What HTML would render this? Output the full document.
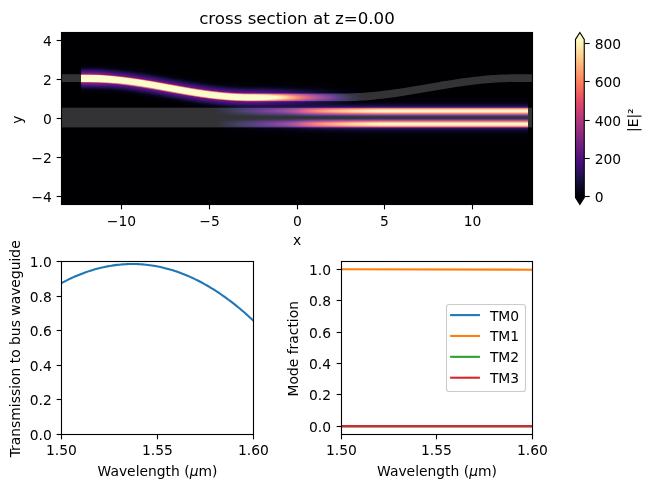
<!DOCTYPE html>
<html><head><meta charset="utf-8"><title>cross section</title>
<style>html,body{margin:0;padding:0;background:#fff}svg{display:block}</style></head>
<body>
<svg width="650" height="491" viewBox="0 0 650 491" font-family="'DejaVu Sans','Liberation Sans',sans-serif" font-size="13.89" fill="#000">
<defs>
<filter id="cmap" color-interpolation-filters="sRGB" x="0" y="0" width="1" height="1" filterUnits="objectBoundingBox">
<feComponentTransfer>
<feFuncR type="table" tableValues="0.001 0.006 0.014 0.025 0.040 0.057 0.074 0.093 0.113 0.135 0.159 0.185 0.212 0.239 0.265 0.291 0.323 0.348 0.372 0.396 0.421 0.445 0.470 0.494 0.519 0.544 0.569 0.595 0.620 0.646 0.671 0.697 0.729 0.755 0.780 0.805 0.829 0.852 0.874 0.895 0.913 0.930 0.944 0.956 0.966 0.973 0.980 0.985 0.989 0.992 0.994 0.996 0.997 0.997 0.997 0.997 0.996 0.995 0.994 0.993 0.991 0.990 0.988 0.987 0.987 0.987 0.987 0.987 0.987 0.987 0.987 0.987 0.987 0.987 0.987 0.987 0.987 0.987 0.987 0.987 0.987 0.987 0.987 0.987 0.987 0.987 0.987 0.987 0.987 0.987 0.987 0.987 0.987 0.987 0.987 0.987 0.987 0.987 0.987 0.987 0.987 0.987 0.987 0.987 0.987 0.987 0.987 0.987 0.987 0.987 0.987 0.987 0.987 0.987 0.987 0.987 0.987 0.987 0.987 0.987 0.987 0.987 0.987 0.987 0.987 0.987 0.987"/>
<feFuncG type="table" tableValues="0.000 0.005 0.012 0.021 0.031 0.042 0.052 0.060 0.065 0.068 0.068 0.066 0.062 0.060 0.060 0.065 0.074 0.083 0.093 0.103 0.113 0.123 0.132 0.141 0.150 0.159 0.167 0.176 0.184 0.192 0.200 0.209 0.219 0.229 0.239 0.250 0.262 0.276 0.292 0.310 0.330 0.353 0.378 0.404 0.433 0.462 0.491 0.521 0.558 0.588 0.617 0.646 0.676 0.705 0.734 0.762 0.791 0.820 0.849 0.877 0.906 0.934 0.963 0.991 0.991 0.991 0.991 0.991 0.991 0.991 0.991 0.991 0.991 0.991 0.991 0.991 0.991 0.991 0.991 0.991 0.991 0.991 0.991 0.991 0.991 0.991 0.991 0.991 0.991 0.991 0.991 0.991 0.991 0.991 0.991 0.991 0.991 0.991 0.991 0.991 0.991 0.991 0.991 0.991 0.991 0.991 0.991 0.991 0.991 0.991 0.991 0.991 0.991 0.991 0.991 0.991 0.991 0.991 0.991 0.991 0.991 0.991 0.991 0.991 0.991 0.991 0.991"/>
<feFuncB type="table" tableValues="0.014 0.037 0.069 0.101 0.134 0.167 0.203 0.239 0.277 0.315 0.353 0.388 0.419 0.443 0.462 0.475 0.487 0.494 0.499 0.503 0.505 0.507 0.508 0.508 0.507 0.506 0.504 0.501 0.498 0.493 0.487 0.481 0.471 0.463 0.453 0.442 0.431 0.419 0.406 0.394 0.383 0.373 0.365 0.361 0.360 0.362 0.368 0.377 0.392 0.406 0.423 0.441 0.461 0.483 0.505 0.529 0.553 0.579 0.606 0.633 0.661 0.690 0.720 0.750 0.750 0.750 0.750 0.750 0.750 0.750 0.750 0.750 0.750 0.750 0.750 0.750 0.750 0.750 0.750 0.750 0.750 0.750 0.750 0.750 0.750 0.750 0.750 0.750 0.750 0.750 0.750 0.750 0.750 0.750 0.750 0.750 0.750 0.750 0.750 0.750 0.750 0.750 0.750 0.750 0.750 0.750 0.750 0.750 0.750 0.750 0.750 0.750 0.750 0.750 0.750 0.750 0.750 0.750 0.750 0.750 0.750 0.750 0.750 0.750 0.750 0.750 0.750"/>
</feComponentTransfer></filter>
<linearGradient id="gA" gradientUnits="userSpaceOnUse" x1="100.0" y1="0" x2="364.0" y2="0"><stop offset="0.0000" stop-color="#fff" stop-opacity="1.0000"/><stop offset="0.0152" stop-color="#fff" stop-opacity="0.9472"/><stop offset="0.0303" stop-color="#fff" stop-opacity="0.9012"/><stop offset="0.0455" stop-color="#fff" stop-opacity="0.8645"/><stop offset="0.0606" stop-color="#fff" stop-opacity="0.8400"/><stop offset="0.0758" stop-color="#fff" stop-opacity="0.8231"/><stop offset="0.0909" stop-color="#fff" stop-opacity="0.8093"/><stop offset="0.1061" stop-color="#fff" stop-opacity="0.8011"/><stop offset="0.1212" stop-color="#fff" stop-opacity="0.8000"/><stop offset="0.1364" stop-color="#fff" stop-opacity="0.8000"/><stop offset="0.1515" stop-color="#fff" stop-opacity="0.8000"/><stop offset="0.1667" stop-color="#fff" stop-opacity="0.8000"/><stop offset="0.1818" stop-color="#fff" stop-opacity="0.8000"/><stop offset="0.1970" stop-color="#fff" stop-opacity="0.8000"/><stop offset="0.2121" stop-color="#fff" stop-opacity="0.8000"/><stop offset="0.2273" stop-color="#fff" stop-opacity="0.8000"/><stop offset="0.2424" stop-color="#fff" stop-opacity="0.8000"/><stop offset="0.2576" stop-color="#fff" stop-opacity="0.8000"/><stop offset="0.2727" stop-color="#fff" stop-opacity="0.8000"/><stop offset="0.2879" stop-color="#fff" stop-opacity="0.8000"/><stop offset="0.3030" stop-color="#fff" stop-opacity="0.8000"/><stop offset="0.3182" stop-color="#fff" stop-opacity="0.8000"/><stop offset="0.3333" stop-color="#fff" stop-opacity="0.8000"/><stop offset="0.3485" stop-color="#fff" stop-opacity="0.8000"/><stop offset="0.3636" stop-color="#fff" stop-opacity="0.8000"/><stop offset="0.3788" stop-color="#fff" stop-opacity="0.8000"/><stop offset="0.3939" stop-color="#fff" stop-opacity="0.7999"/><stop offset="0.4091" stop-color="#fff" stop-opacity="0.7995"/><stop offset="0.4242" stop-color="#fff" stop-opacity="0.7989"/><stop offset="0.4394" stop-color="#fff" stop-opacity="0.7980"/><stop offset="0.4545" stop-color="#fff" stop-opacity="0.7968"/><stop offset="0.4697" stop-color="#fff" stop-opacity="0.7954"/><stop offset="0.4848" stop-color="#fff" stop-opacity="0.7938"/><stop offset="0.5000" stop-color="#fff" stop-opacity="0.7919"/><stop offset="0.5152" stop-color="#fff" stop-opacity="0.7897"/><stop offset="0.5303" stop-color="#fff" stop-opacity="0.7873"/><stop offset="0.5455" stop-color="#fff" stop-opacity="0.7846"/><stop offset="0.5606" stop-color="#fff" stop-opacity="0.7816"/><stop offset="0.5758" stop-color="#fff" stop-opacity="0.7772"/><stop offset="0.5909" stop-color="#fff" stop-opacity="0.7652"/><stop offset="0.6061" stop-color="#fff" stop-opacity="0.7460"/><stop offset="0.6212" stop-color="#fff" stop-opacity="0.7212"/><stop offset="0.6364" stop-color="#fff" stop-opacity="0.6926"/><stop offset="0.6515" stop-color="#fff" stop-opacity="0.6617"/><stop offset="0.6667" stop-color="#fff" stop-opacity="0.6303"/><stop offset="0.6818" stop-color="#fff" stop-opacity="0.6000"/><stop offset="0.6970" stop-color="#fff" stop-opacity="0.5683"/><stop offset="0.7121" stop-color="#fff" stop-opacity="0.5328"/><stop offset="0.7273" stop-color="#fff" stop-opacity="0.4951"/><stop offset="0.7424" stop-color="#fff" stop-opacity="0.4566"/><stop offset="0.7576" stop-color="#fff" stop-opacity="0.4191"/><stop offset="0.7727" stop-color="#fff" stop-opacity="0.3826"/><stop offset="0.7879" stop-color="#fff" stop-opacity="0.3455"/><stop offset="0.8030" stop-color="#fff" stop-opacity="0.3098"/><stop offset="0.8182" stop-color="#fff" stop-opacity="0.2773"/><stop offset="0.8333" stop-color="#fff" stop-opacity="0.2481"/><stop offset="0.8485" stop-color="#fff" stop-opacity="0.2207"/><stop offset="0.8636" stop-color="#fff" stop-opacity="0.1938"/><stop offset="0.8788" stop-color="#fff" stop-opacity="0.1658"/><stop offset="0.8939" stop-color="#fff" stop-opacity="0.1366"/><stop offset="0.9091" stop-color="#fff" stop-opacity="0.1080"/><stop offset="0.9242" stop-color="#fff" stop-opacity="0.0818"/><stop offset="0.9394" stop-color="#fff" stop-opacity="0.0600"/><stop offset="0.9545" stop-color="#fff" stop-opacity="0.0417"/><stop offset="0.9697" stop-color="#fff" stop-opacity="0.0253"/><stop offset="0.9848" stop-color="#fff" stop-opacity="0.0112"/><stop offset="1.0000" stop-color="#fff" stop-opacity="0.0000"/></linearGradient>
<linearGradient id="gB" gradientUnits="userSpaceOnUse" x1="212.0" y1="0" x2="382.0" y2="0"><stop offset="0.0000" stop-color="#fff" stop-opacity="0.0000"/><stop offset="0.0152" stop-color="#fff" stop-opacity="0.0110"/><stop offset="0.0303" stop-color="#fff" stop-opacity="0.0221"/><stop offset="0.0455" stop-color="#fff" stop-opacity="0.0334"/><stop offset="0.0606" stop-color="#fff" stop-opacity="0.0448"/><stop offset="0.0758" stop-color="#fff" stop-opacity="0.0564"/><stop offset="0.0909" stop-color="#fff" stop-opacity="0.0682"/><stop offset="0.1061" stop-color="#fff" stop-opacity="0.0801"/><stop offset="0.1212" stop-color="#fff" stop-opacity="0.0922"/><stop offset="0.1364" stop-color="#fff" stop-opacity="0.1044"/><stop offset="0.1515" stop-color="#fff" stop-opacity="0.1168"/><stop offset="0.1667" stop-color="#fff" stop-opacity="0.1292"/><stop offset="0.1818" stop-color="#fff" stop-opacity="0.1418"/><stop offset="0.1970" stop-color="#fff" stop-opacity="0.1545"/><stop offset="0.2121" stop-color="#fff" stop-opacity="0.1674"/><stop offset="0.2273" stop-color="#fff" stop-opacity="0.1805"/><stop offset="0.2424" stop-color="#fff" stop-opacity="0.1938"/><stop offset="0.2576" stop-color="#fff" stop-opacity="0.2074"/><stop offset="0.2727" stop-color="#fff" stop-opacity="0.2211"/><stop offset="0.2879" stop-color="#fff" stop-opacity="0.2351"/><stop offset="0.3030" stop-color="#fff" stop-opacity="0.2488"/><stop offset="0.3182" stop-color="#fff" stop-opacity="0.2623"/><stop offset="0.3333" stop-color="#fff" stop-opacity="0.2757"/><stop offset="0.3485" stop-color="#fff" stop-opacity="0.2893"/><stop offset="0.3636" stop-color="#fff" stop-opacity="0.3032"/><stop offset="0.3788" stop-color="#fff" stop-opacity="0.3177"/><stop offset="0.3939" stop-color="#fff" stop-opacity="0.3328"/><stop offset="0.4091" stop-color="#fff" stop-opacity="0.3488"/><stop offset="0.4242" stop-color="#fff" stop-opacity="0.3659"/><stop offset="0.4394" stop-color="#fff" stop-opacity="0.3843"/><stop offset="0.4545" stop-color="#fff" stop-opacity="0.4041"/><stop offset="0.4697" stop-color="#fff" stop-opacity="0.4268"/><stop offset="0.4848" stop-color="#fff" stop-opacity="0.4550"/><stop offset="0.5000" stop-color="#fff" stop-opacity="0.4871"/><stop offset="0.5152" stop-color="#fff" stop-opacity="0.5216"/><stop offset="0.5303" stop-color="#fff" stop-opacity="0.5567"/><stop offset="0.5455" stop-color="#fff" stop-opacity="0.5907"/><stop offset="0.5606" stop-color="#fff" stop-opacity="0.6220"/><stop offset="0.5758" stop-color="#fff" stop-opacity="0.6489"/><stop offset="0.5909" stop-color="#fff" stop-opacity="0.6721"/><stop offset="0.6061" stop-color="#fff" stop-opacity="0.6941"/><stop offset="0.6212" stop-color="#fff" stop-opacity="0.7150"/><stop offset="0.6364" stop-color="#fff" stop-opacity="0.7347"/><stop offset="0.6515" stop-color="#fff" stop-opacity="0.7533"/><stop offset="0.6667" stop-color="#fff" stop-opacity="0.7708"/><stop offset="0.6818" stop-color="#fff" stop-opacity="0.7873"/><stop offset="0.6970" stop-color="#fff" stop-opacity="0.8029"/><stop offset="0.7121" stop-color="#fff" stop-opacity="0.8177"/><stop offset="0.7273" stop-color="#fff" stop-opacity="0.8319"/><stop offset="0.7424" stop-color="#fff" stop-opacity="0.8455"/><stop offset="0.7576" stop-color="#fff" stop-opacity="0.8586"/><stop offset="0.7727" stop-color="#fff" stop-opacity="0.8711"/><stop offset="0.7879" stop-color="#fff" stop-opacity="0.8830"/><stop offset="0.8030" stop-color="#fff" stop-opacity="0.8942"/><stop offset="0.8182" stop-color="#fff" stop-opacity="0.9049"/><stop offset="0.8333" stop-color="#fff" stop-opacity="0.9150"/><stop offset="0.8485" stop-color="#fff" stop-opacity="0.9245"/><stop offset="0.8636" stop-color="#fff" stop-opacity="0.9338"/><stop offset="0.8788" stop-color="#fff" stop-opacity="0.9427"/><stop offset="0.8939" stop-color="#fff" stop-opacity="0.9513"/><stop offset="0.9091" stop-color="#fff" stop-opacity="0.9596"/><stop offset="0.9242" stop-color="#fff" stop-opacity="0.9675"/><stop offset="0.9394" stop-color="#fff" stop-opacity="0.9750"/><stop offset="0.9545" stop-color="#fff" stop-opacity="0.9820"/><stop offset="0.9697" stop-color="#fff" stop-opacity="0.9885"/><stop offset="0.9848" stop-color="#fff" stop-opacity="0.9945"/><stop offset="1.0000" stop-color="#fff" stop-opacity="1.0000"/></linearGradient>
<mask id="mA" maskUnits="userSpaceOnUse" x="0" y="0" width="650" height="491"><rect x="81.1" y="0" width="446.9" height="491" fill="url(#gA)"/></mask>
<mask id="mB" maskUnits="userSpaceOnUse" x="0" y="0" width="650" height="491"><rect x="81.1" y="0" width="446.9" height="491" fill="url(#gB)"/></mask>
<linearGradient id="gP" gradientUnits="userSpaceOnUse" x1="0" y1="93.55" x2="0" y2="141.55"><stop offset="0.0000" stop-color="#000000"/><stop offset="0.0052" stop-color="#000000"/><stop offset="0.0104" stop-color="#000000"/><stop offset="0.0156" stop-color="#000000"/><stop offset="0.0208" stop-color="#000000"/><stop offset="0.0260" stop-color="#000000"/><stop offset="0.0312" stop-color="#000000"/><stop offset="0.0365" stop-color="#000000"/><stop offset="0.0417" stop-color="#000000"/><stop offset="0.0469" stop-color="#000000"/><stop offset="0.0521" stop-color="#000000"/><stop offset="0.0573" stop-color="#000000"/><stop offset="0.0625" stop-color="#010101"/><stop offset="0.0677" stop-color="#010101"/><stop offset="0.0729" stop-color="#010101"/><stop offset="0.0781" stop-color="#010101"/><stop offset="0.0833" stop-color="#010101"/><stop offset="0.0885" stop-color="#010101"/><stop offset="0.0938" stop-color="#010101"/><stop offset="0.0990" stop-color="#010101"/><stop offset="0.1042" stop-color="#010101"/><stop offset="0.1094" stop-color="#010101"/><stop offset="0.1146" stop-color="#010101"/><stop offset="0.1198" stop-color="#010101"/><stop offset="0.1250" stop-color="#020202"/><stop offset="0.1302" stop-color="#020202"/><stop offset="0.1354" stop-color="#020202"/><stop offset="0.1406" stop-color="#020202"/><stop offset="0.1458" stop-color="#020202"/><stop offset="0.1510" stop-color="#030303"/><stop offset="0.1562" stop-color="#030303"/><stop offset="0.1615" stop-color="#030303"/><stop offset="0.1667" stop-color="#030303"/><stop offset="0.1719" stop-color="#040404"/><stop offset="0.1771" stop-color="#040404"/><stop offset="0.1823" stop-color="#040404"/><stop offset="0.1875" stop-color="#050505"/><stop offset="0.1927" stop-color="#050505"/><stop offset="0.1979" stop-color="#060606"/><stop offset="0.2031" stop-color="#060606"/><stop offset="0.2083" stop-color="#070707"/><stop offset="0.2135" stop-color="#080808"/><stop offset="0.2188" stop-color="#080808"/><stop offset="0.2240" stop-color="#090909"/><stop offset="0.2292" stop-color="#0a0a0a"/><stop offset="0.2344" stop-color="#0b0b0b"/><stop offset="0.2396" stop-color="#0c0c0c"/><stop offset="0.2448" stop-color="#0d0d0d"/><stop offset="0.2500" stop-color="#0f0f0f"/><stop offset="0.2552" stop-color="#101010"/><stop offset="0.2604" stop-color="#121212"/><stop offset="0.2656" stop-color="#131313"/><stop offset="0.2708" stop-color="#151515"/><stop offset="0.2760" stop-color="#171717"/><stop offset="0.2812" stop-color="#1a1a1a"/><stop offset="0.2865" stop-color="#1c1c1c"/><stop offset="0.2917" stop-color="#292929"/><stop offset="0.2969" stop-color="#393939"/><stop offset="0.3021" stop-color="#494949"/><stop offset="0.3073" stop-color="#515151"/><stop offset="0.3125" stop-color="#585858"/><stop offset="0.3177" stop-color="#5f5f5f"/><stop offset="0.3229" stop-color="#656565"/><stop offset="0.3281" stop-color="#6b6b6b"/><stop offset="0.3333" stop-color="#707070"/><stop offset="0.3385" stop-color="#757575"/><stop offset="0.3438" stop-color="#787878"/><stop offset="0.3490" stop-color="#7b7b7b"/><stop offset="0.3542" stop-color="#7d7d7d"/><stop offset="0.3594" stop-color="#7e7e7e"/><stop offset="0.3646" stop-color="#7f7f7f"/><stop offset="0.3698" stop-color="#7e7e7e"/><stop offset="0.3750" stop-color="#7d7d7d"/><stop offset="0.3802" stop-color="#7a7a7a"/><stop offset="0.3854" stop-color="#777777"/><stop offset="0.3906" stop-color="#737373"/><stop offset="0.3958" stop-color="#6e6e6e"/><stop offset="0.4010" stop-color="#696969"/><stop offset="0.4062" stop-color="#626262"/><stop offset="0.4115" stop-color="#5c5c5c"/><stop offset="0.4167" stop-color="#555555"/><stop offset="0.4219" stop-color="#4e4e4e"/><stop offset="0.4271" stop-color="#464646"/><stop offset="0.4323" stop-color="#3f3f3f"/><stop offset="0.4375" stop-color="#373737"/><stop offset="0.4427" stop-color="#303030"/><stop offset="0.4479" stop-color="#282828"/><stop offset="0.4531" stop-color="#212121"/><stop offset="0.4583" stop-color="#1b1b1b"/><stop offset="0.4635" stop-color="#151515"/><stop offset="0.4688" stop-color="#101010"/><stop offset="0.4740" stop-color="#0b0b0b"/><stop offset="0.4792" stop-color="#070707"/><stop offset="0.4844" stop-color="#040404"/><stop offset="0.4896" stop-color="#020202"/><stop offset="0.4948" stop-color="#000000"/><stop offset="0.5000" stop-color="#000000"/><stop offset="0.5052" stop-color="#000000"/><stop offset="0.5104" stop-color="#020202"/><stop offset="0.5156" stop-color="#040404"/><stop offset="0.5208" stop-color="#070707"/><stop offset="0.5260" stop-color="#0b0b0b"/><stop offset="0.5312" stop-color="#101010"/><stop offset="0.5365" stop-color="#151515"/><stop offset="0.5417" stop-color="#1b1b1b"/><stop offset="0.5469" stop-color="#212121"/><stop offset="0.5521" stop-color="#282828"/><stop offset="0.5573" stop-color="#303030"/><stop offset="0.5625" stop-color="#373737"/><stop offset="0.5677" stop-color="#3f3f3f"/><stop offset="0.5729" stop-color="#464646"/><stop offset="0.5781" stop-color="#4e4e4e"/><stop offset="0.5833" stop-color="#555555"/><stop offset="0.5885" stop-color="#5c5c5c"/><stop offset="0.5938" stop-color="#626262"/><stop offset="0.5990" stop-color="#696969"/><stop offset="0.6042" stop-color="#6e6e6e"/><stop offset="0.6094" stop-color="#737373"/><stop offset="0.6146" stop-color="#777777"/><stop offset="0.6198" stop-color="#7a7a7a"/><stop offset="0.6250" stop-color="#7d7d7d"/><stop offset="0.6302" stop-color="#7e7e7e"/><stop offset="0.6354" stop-color="#7f7f7f"/><stop offset="0.6406" stop-color="#7e7e7e"/><stop offset="0.6458" stop-color="#7d7d7d"/><stop offset="0.6510" stop-color="#7b7b7b"/><stop offset="0.6562" stop-color="#787878"/><stop offset="0.6615" stop-color="#757575"/><stop offset="0.6667" stop-color="#707070"/><stop offset="0.6719" stop-color="#6b6b6b"/><stop offset="0.6771" stop-color="#656565"/><stop offset="0.6823" stop-color="#5f5f5f"/><stop offset="0.6875" stop-color="#585858"/><stop offset="0.6927" stop-color="#515151"/><stop offset="0.6979" stop-color="#494949"/><stop offset="0.7031" stop-color="#393939"/><stop offset="0.7083" stop-color="#292929"/><stop offset="0.7135" stop-color="#1c1c1c"/><stop offset="0.7188" stop-color="#1a1a1a"/><stop offset="0.7240" stop-color="#171717"/><stop offset="0.7292" stop-color="#151515"/><stop offset="0.7344" stop-color="#131313"/><stop offset="0.7396" stop-color="#121212"/><stop offset="0.7448" stop-color="#101010"/><stop offset="0.7500" stop-color="#0f0f0f"/><stop offset="0.7552" stop-color="#0d0d0d"/><stop offset="0.7604" stop-color="#0c0c0c"/><stop offset="0.7656" stop-color="#0b0b0b"/><stop offset="0.7708" stop-color="#0a0a0a"/><stop offset="0.7760" stop-color="#090909"/><stop offset="0.7812" stop-color="#080808"/><stop offset="0.7865" stop-color="#080808"/><stop offset="0.7917" stop-color="#070707"/><stop offset="0.7969" stop-color="#060606"/><stop offset="0.8021" stop-color="#060606"/><stop offset="0.8073" stop-color="#050505"/><stop offset="0.8125" stop-color="#050505"/><stop offset="0.8177" stop-color="#040404"/><stop offset="0.8229" stop-color="#040404"/><stop offset="0.8281" stop-color="#040404"/><stop offset="0.8333" stop-color="#030303"/><stop offset="0.8385" stop-color="#030303"/><stop offset="0.8438" stop-color="#030303"/><stop offset="0.8490" stop-color="#030303"/><stop offset="0.8542" stop-color="#020202"/><stop offset="0.8594" stop-color="#020202"/><stop offset="0.8646" stop-color="#020202"/><stop offset="0.8698" stop-color="#020202"/><stop offset="0.8750" stop-color="#020202"/><stop offset="0.8802" stop-color="#010101"/><stop offset="0.8854" stop-color="#010101"/><stop offset="0.8906" stop-color="#010101"/><stop offset="0.8958" stop-color="#010101"/><stop offset="0.9010" stop-color="#010101"/><stop offset="0.9062" stop-color="#010101"/><stop offset="0.9115" stop-color="#010101"/><stop offset="0.9167" stop-color="#010101"/><stop offset="0.9219" stop-color="#010101"/><stop offset="0.9271" stop-color="#010101"/><stop offset="0.9323" stop-color="#010101"/><stop offset="0.9375" stop-color="#010101"/><stop offset="0.9427" stop-color="#000000"/><stop offset="0.9479" stop-color="#000000"/><stop offset="0.9531" stop-color="#000000"/><stop offset="0.9583" stop-color="#000000"/><stop offset="0.9635" stop-color="#000000"/><stop offset="0.9688" stop-color="#000000"/><stop offset="0.9740" stop-color="#000000"/><stop offset="0.9792" stop-color="#000000"/><stop offset="0.9844" stop-color="#000000"/><stop offset="0.9896" stop-color="#000000"/><stop offset="0.9948" stop-color="#000000"/><stop offset="1.0000" stop-color="#000000"/></linearGradient>
<linearGradient id="gU" gradientUnits="userSpaceOnUse" x1="0" y1="-16" x2="0" y2="16"><stop offset="0.0000" stop-color="#000000"/><stop offset="0.0078" stop-color="#000000"/><stop offset="0.0156" stop-color="#000000"/><stop offset="0.0234" stop-color="#000000"/><stop offset="0.0312" stop-color="#000000"/><stop offset="0.0391" stop-color="#000000"/><stop offset="0.0469" stop-color="#010101"/><stop offset="0.0547" stop-color="#010101"/><stop offset="0.0625" stop-color="#010101"/><stop offset="0.0703" stop-color="#010101"/><stop offset="0.0781" stop-color="#010101"/><stop offset="0.0859" stop-color="#020202"/><stop offset="0.0938" stop-color="#020202"/><stop offset="0.1016" stop-color="#020202"/><stop offset="0.1094" stop-color="#030303"/><stop offset="0.1172" stop-color="#030303"/><stop offset="0.1250" stop-color="#030303"/><stop offset="0.1328" stop-color="#040404"/><stop offset="0.1406" stop-color="#050505"/><stop offset="0.1484" stop-color="#050505"/><stop offset="0.1562" stop-color="#060606"/><stop offset="0.1641" stop-color="#070707"/><stop offset="0.1719" stop-color="#080808"/><stop offset="0.1797" stop-color="#090909"/><stop offset="0.1875" stop-color="#0a0a0a"/><stop offset="0.1953" stop-color="#0c0c0c"/><stop offset="0.2031" stop-color="#0d0d0d"/><stop offset="0.2109" stop-color="#0f0f0f"/><stop offset="0.2188" stop-color="#101010"/><stop offset="0.2266" stop-color="#121212"/><stop offset="0.2344" stop-color="#141414"/><stop offset="0.2422" stop-color="#151515"/><stop offset="0.2500" stop-color="#171717"/><stop offset="0.2578" stop-color="#191919"/><stop offset="0.2656" stop-color="#1b1b1b"/><stop offset="0.2734" stop-color="#1d1d1d"/><stop offset="0.2812" stop-color="#1f1f1f"/><stop offset="0.2891" stop-color="#212121"/><stop offset="0.2969" stop-color="#232323"/><stop offset="0.3047" stop-color="#252525"/><stop offset="0.3125" stop-color="#262626"/><stop offset="0.3203" stop-color="#282828"/><stop offset="0.3281" stop-color="#292929"/><stop offset="0.3359" stop-color="#2b2b2b"/><stop offset="0.3438" stop-color="#2c2c2c"/><stop offset="0.3516" stop-color="#2d2d2d"/><stop offset="0.3594" stop-color="#2e2e2e"/><stop offset="0.3672" stop-color="#323232"/><stop offset="0.3750" stop-color="#444444"/><stop offset="0.3828" stop-color="#565656"/><stop offset="0.3906" stop-color="#686868"/><stop offset="0.3984" stop-color="#7a7a7a"/><stop offset="0.4062" stop-color="#8c8c8c"/><stop offset="0.4141" stop-color="#979797"/><stop offset="0.4219" stop-color="#a0a0a0"/><stop offset="0.4297" stop-color="#a8a8a8"/><stop offset="0.4375" stop-color="#b0b0b0"/><stop offset="0.4453" stop-color="#b7b7b7"/><stop offset="0.4531" stop-color="#bdbdbd"/><stop offset="0.4609" stop-color="#c3c3c3"/><stop offset="0.4688" stop-color="#c7c7c7"/><stop offset="0.4766" stop-color="#cbcbcb"/><stop offset="0.4844" stop-color="#cecece"/><stop offset="0.4922" stop-color="#cfcfcf"/><stop offset="0.5000" stop-color="#d0d0d0"/><stop offset="0.5078" stop-color="#cfcfcf"/><stop offset="0.5156" stop-color="#cecece"/><stop offset="0.5234" stop-color="#cbcbcb"/><stop offset="0.5312" stop-color="#c7c7c7"/><stop offset="0.5391" stop-color="#c3c3c3"/><stop offset="0.5469" stop-color="#bdbdbd"/><stop offset="0.5547" stop-color="#b7b7b7"/><stop offset="0.5625" stop-color="#b0b0b0"/><stop offset="0.5703" stop-color="#a8a8a8"/><stop offset="0.5781" stop-color="#a0a0a0"/><stop offset="0.5859" stop-color="#979797"/><stop offset="0.5938" stop-color="#8c8c8c"/><stop offset="0.6016" stop-color="#7a7a7a"/><stop offset="0.6094" stop-color="#686868"/><stop offset="0.6172" stop-color="#565656"/><stop offset="0.6250" stop-color="#444444"/><stop offset="0.6328" stop-color="#323232"/><stop offset="0.6406" stop-color="#2e2e2e"/><stop offset="0.6484" stop-color="#2d2d2d"/><stop offset="0.6562" stop-color="#2c2c2c"/><stop offset="0.6641" stop-color="#2b2b2b"/><stop offset="0.6719" stop-color="#292929"/><stop offset="0.6797" stop-color="#282828"/><stop offset="0.6875" stop-color="#262626"/><stop offset="0.6953" stop-color="#252525"/><stop offset="0.7031" stop-color="#232323"/><stop offset="0.7109" stop-color="#212121"/><stop offset="0.7188" stop-color="#1f1f1f"/><stop offset="0.7266" stop-color="#1d1d1d"/><stop offset="0.7344" stop-color="#1b1b1b"/><stop offset="0.7422" stop-color="#191919"/><stop offset="0.7500" stop-color="#171717"/><stop offset="0.7578" stop-color="#151515"/><stop offset="0.7656" stop-color="#141414"/><stop offset="0.7734" stop-color="#121212"/><stop offset="0.7812" stop-color="#101010"/><stop offset="0.7891" stop-color="#0f0f0f"/><stop offset="0.7969" stop-color="#0d0d0d"/><stop offset="0.8047" stop-color="#0c0c0c"/><stop offset="0.8125" stop-color="#0a0a0a"/><stop offset="0.8203" stop-color="#090909"/><stop offset="0.8281" stop-color="#080808"/><stop offset="0.8359" stop-color="#070707"/><stop offset="0.8438" stop-color="#060606"/><stop offset="0.8516" stop-color="#050505"/><stop offset="0.8594" stop-color="#050505"/><stop offset="0.8672" stop-color="#040404"/><stop offset="0.8750" stop-color="#030303"/><stop offset="0.8828" stop-color="#030303"/><stop offset="0.8906" stop-color="#030303"/><stop offset="0.8984" stop-color="#020202"/><stop offset="0.9062" stop-color="#020202"/><stop offset="0.9141" stop-color="#020202"/><stop offset="0.9219" stop-color="#010101"/><stop offset="0.9297" stop-color="#010101"/><stop offset="0.9375" stop-color="#010101"/><stop offset="0.9453" stop-color="#010101"/><stop offset="0.9531" stop-color="#010101"/><stop offset="0.9609" stop-color="#000000"/><stop offset="0.9688" stop-color="#000000"/><stop offset="0.9766" stop-color="#000000"/><stop offset="0.9844" stop-color="#000000"/><stop offset="0.9922" stop-color="#000000"/><stop offset="1.0000" stop-color="#000000"/></linearGradient>
<path id="pu" d="M55.0 78.15 L58.0 78.15 L61.0 78.15 L64.0 78.15 L67.0 78.15 L70.0 78.15 L73.0 78.15 L76.0 78.15 L79.0 78.15 L82.0 78.17 L85.0 78.22 L88.0 78.30 L91.0 78.40 L94.0 78.53 L97.0 78.69 L100.0 78.87 L103.0 79.08 L106.0 79.32 L109.0 79.58 L112.0 79.86 L115.0 80.17 L118.0 80.50 L121.0 80.85 L124.0 81.22 L127.0 81.61 L130.0 82.01 L133.0 82.44 L136.0 82.88 L139.0 83.33 L142.0 83.79 L145.0 84.27 L148.0 84.76 L151.0 85.26 L154.0 85.76 L157.0 86.27 L160.0 86.78 L163.0 87.30 L166.0 87.82 L169.0 88.34 L172.0 88.85 L175.0 89.37 L178.0 89.87 L181.0 90.38 L184.0 90.87 L187.0 91.36 L190.0 91.83 L193.0 92.30 L196.0 92.75 L199.0 93.19 L202.0 93.61 L205.0 94.01 L208.0 94.40 L211.0 94.76 L214.0 95.11 L217.0 95.43 L220.0 95.74 L223.0 96.02 L226.0 96.27 L229.0 96.50 L232.0 96.71 L235.0 96.89 L238.0 97.04 L241.0 97.17 L244.0 97.27 L247.0 97.34 L250.0 97.38 L253.0 97.40 L256.0 97.40 L259.0 97.40 L262.0 97.40 L265.0 97.40 L268.0 97.40 L271.0 97.40 L274.0 97.40 L277.0 97.40 L280.0 97.40 L283.0 97.40 L286.0 97.40 L289.0 97.40 L292.0 97.40 L295.0 97.40 L298.0 97.40 L301.0 97.40 L304.0 97.40 L307.0 97.40 L310.0 97.40 L313.0 97.40 L316.0 97.40 L319.0 97.40 L322.0 97.40 L325.0 97.40 L328.0 97.40 L331.0 97.40 L334.0 97.40 L337.0 97.40 L340.0 97.40 L343.0 97.39 L346.0 97.36 L349.0 97.29 L352.0 97.20 L355.0 97.09 L358.0 96.94 L361.0 96.77 L364.0 96.57 L367.0 96.35 L370.0 96.10 L373.0 95.83 L376.0 95.54 L379.0 95.22 L382.0 94.88 L385.0 94.52 L388.0 94.14 L391.0 93.74 L394.0 93.33 L397.0 92.90 L400.0 92.45 L403.0 91.99 L406.0 91.52 L409.0 91.04 L412.0 90.54 L415.0 90.04 L418.0 89.54 L421.0 89.02 L424.0 88.51 L427.0 87.99 L430.0 87.47 L433.0 86.96 L436.0 86.44 L439.0 85.93 L442.0 85.42 L445.0 84.92 L448.0 84.43 L451.0 83.95 L454.0 83.48 L457.0 83.02 L460.0 82.58 L463.0 82.15 L466.0 81.74 L469.0 81.35 L472.0 80.97 L475.0 80.61 L478.0 80.28 L481.0 79.96 L484.0 79.67 L487.0 79.40 L490.0 79.16 L493.0 78.94 L496.0 78.75 L499.0 78.58 L502.0 78.44 L505.0 78.33 L508.0 78.24 L511.0 78.18 L514.0 78.15 L517.0 78.15 L520.0 78.15 L523.0 78.15 L526.0 78.15 L529.0 78.15 L532.0 78.15 L535.0 78.15 L538.0 78.15" fill="none"/>
<clipPath id="cax"><rect x="61.5" y="32.5" width="471.0" height="172.0"/></clipPath>
<linearGradient id="gC" x1="0" y1="1" x2="0" y2="0"><stop offset="0.0000" stop-color="#000004"/><stop offset="0.0312" stop-color="#030312"/><stop offset="0.0625" stop-color="#0a0822"/><stop offset="0.0938" stop-color="#130d34"/><stop offset="0.1250" stop-color="#1d1147"/><stop offset="0.1562" stop-color="#29115a"/><stop offset="0.1875" stop-color="#36106b"/><stop offset="0.2188" stop-color="#440f76"/><stop offset="0.2500" stop-color="#51127c"/><stop offset="0.2812" stop-color="#5d177f"/><stop offset="0.3125" stop-color="#6a1c81"/><stop offset="0.3438" stop-color="#762181"/><stop offset="0.3750" stop-color="#832681"/><stop offset="0.4062" stop-color="#902a81"/><stop offset="0.4375" stop-color="#9c2e7f"/><stop offset="0.4688" stop-color="#aa337d"/><stop offset="0.5000" stop-color="#b73779"/><stop offset="0.5312" stop-color="#c43c75"/><stop offset="0.5625" stop-color="#d0416f"/><stop offset="0.5938" stop-color="#dc4869"/><stop offset="0.6250" stop-color="#e75263"/><stop offset="0.6562" stop-color="#ef5d5e"/><stop offset="0.6875" stop-color="#f56b5c"/><stop offset="0.7188" stop-color="#f9795d"/><stop offset="0.7500" stop-color="#fc8961"/><stop offset="0.7812" stop-color="#fd9869"/><stop offset="0.8125" stop-color="#fea772"/><stop offset="0.8438" stop-color="#feb67c"/><stop offset="0.8750" stop-color="#fec488"/><stop offset="0.9062" stop-color="#fed395"/><stop offset="0.9375" stop-color="#fde2a3"/><stop offset="0.9688" stop-color="#fcf0b2"/><stop offset="1.0000" stop-color="#fcfdbf"/></linearGradient>
</defs>
<rect width="650" height="491" fill="#fff"/>
<g clip-path="url(#cax)">
<g filter="url(#cmap)">
<rect x="60.5" y="31.5" width="473.0" height="174.0" fill="#000"/>
<g mask="url(#mA)">
<rect x="0" y="-16" width="6" height="32" fill="url(#gU)" transform="matrix(1 0.00000 0 1.00000 81 78.450)"/>
<rect x="0" y="-16" width="3" height="32" fill="url(#gU)" transform="matrix(1 0.00238 0 1.00000 87 78.450)"/>
<rect x="0" y="-16" width="3" height="32" fill="url(#gU)" transform="matrix(1 0.01246 0 1.00008 90 78.457)"/>
<rect x="0" y="-16" width="3" height="32" fill="url(#gU)" transform="matrix(1 0.02310 0 1.00027 93 78.495)"/>
<rect x="0" y="-16" width="3" height="32" fill="url(#gU)" transform="matrix(1 0.03366 0 1.00057 96 78.564)"/>
<rect x="0" y="-16" width="3" height="32" fill="url(#gU)" transform="matrix(1 0.04410 0 1.00097 99 78.665)"/>
<rect x="0" y="-16" width="3" height="32" fill="url(#gU)" transform="matrix(1 0.05440 0 1.00148 102 78.797)"/>
<rect x="0" y="-16" width="3" height="32" fill="url(#gU)" transform="matrix(1 0.06451 0 1.00208 105 78.960)"/>
<rect x="0" y="-16" width="3" height="32" fill="url(#gU)" transform="matrix(1 0.07440 0 1.00276 108 79.154)"/>
<rect x="0" y="-16" width="3" height="32" fill="url(#gU)" transform="matrix(1 0.08404 0 1.00353 111 79.377)"/>
<rect x="0" y="-16" width="3" height="32" fill="url(#gU)" transform="matrix(1 0.09340 0 1.00435 114 79.629)"/>
<rect x="0" y="-16" width="3" height="32" fill="url(#gU)" transform="matrix(1 0.10244 0 1.00523 117 79.909)"/>
<rect x="0" y="-16" width="3" height="32" fill="url(#gU)" transform="matrix(1 0.11113 0 1.00616 120 80.217)"/>
<rect x="0" y="-16" width="3" height="32" fill="url(#gU)" transform="matrix(1 0.11945 0 1.00711 123 80.550)"/>
<rect x="0" y="-16" width="3" height="32" fill="url(#gU)" transform="matrix(1 0.12737 0 1.00808 126 80.908)"/>
<rect x="0" y="-16" width="3" height="32" fill="url(#gU)" transform="matrix(1 0.13485 0 1.00905 129 81.290)"/>
<rect x="0" y="-16" width="3" height="32" fill="url(#gU)" transform="matrix(1 0.14187 0 1.01001 132 81.695)"/>
<rect x="0" y="-16" width="3" height="32" fill="url(#gU)" transform="matrix(1 0.14842 0 1.01095 135 82.121)"/>
<rect x="0" y="-16" width="3" height="32" fill="url(#gU)" transform="matrix(1 0.15447 0 1.01186 138 82.566)"/>
<rect x="0" y="-16" width="3" height="32" fill="url(#gU)" transform="matrix(1 0.15999 0 1.01272 141 83.029)"/>
<rect x="0" y="-16" width="3" height="32" fill="url(#gU)" transform="matrix(1 0.16497 0 1.01352 144 83.509)"/>
<rect x="0" y="-16" width="3" height="32" fill="url(#gU)" transform="matrix(1 0.16939 0 1.01425 147 84.004)"/>
<rect x="0" y="-16" width="3" height="32" fill="url(#gU)" transform="matrix(1 0.17324 0 1.01490 150 84.512)"/>
<rect x="0" y="-16" width="3" height="32" fill="url(#gU)" transform="matrix(1 0.17650 0 1.01546 153 85.032)"/>
<rect x="0" y="-16" width="3" height="32" fill="url(#gU)" transform="matrix(1 0.17917 0 1.01592 156 85.562)"/>
<rect x="0" y="-16" width="3" height="32" fill="url(#gU)" transform="matrix(1 0.18123 0 1.01629 159 86.099)"/>
<rect x="0" y="-16" width="3" height="32" fill="url(#gU)" transform="matrix(1 0.18267 0 1.01655 162 86.643)"/>
<rect x="0" y="-16" width="3" height="32" fill="url(#gU)" transform="matrix(1 0.18350 0 1.01670 165 87.191)"/>
<rect x="0" y="-16" width="3" height="32" fill="url(#gU)" transform="matrix(1 0.18371 0 1.01673 168 87.741)"/>
<rect x="0" y="-16" width="3" height="32" fill="url(#gU)" transform="matrix(1 0.18330 0 1.01666 171 88.292)"/>
<rect x="0" y="-16" width="3" height="32" fill="url(#gU)" transform="matrix(1 0.18226 0 1.01647 174 88.842)"/>
<rect x="0" y="-16" width="3" height="32" fill="url(#gU)" transform="matrix(1 0.18061 0 1.01618 177 89.389)"/>
<rect x="0" y="-16" width="3" height="32" fill="url(#gU)" transform="matrix(1 0.17835 0 1.01578 180 89.931)"/>
<rect x="0" y="-16" width="3" height="32" fill="url(#gU)" transform="matrix(1 0.17548 0 1.01528 183 90.466)"/>
<rect x="0" y="-16" width="3" height="32" fill="url(#gU)" transform="matrix(1 0.17202 0 1.01469 186 90.992)"/>
<rect x="0" y="-16" width="3" height="32" fill="url(#gU)" transform="matrix(1 0.16798 0 1.01401 189 91.508)"/>
<rect x="0" y="-16" width="3" height="32" fill="url(#gU)" transform="matrix(1 0.16337 0 1.01326 192 92.012)"/>
<rect x="0" y="-16" width="3" height="32" fill="url(#gU)" transform="matrix(1 0.15821 0 1.01244 195 92.502)"/>
<rect x="0" y="-16" width="3" height="32" fill="url(#gU)" transform="matrix(1 0.15251 0 1.01156 198 92.977)"/>
<rect x="0" y="-16" width="3" height="32" fill="url(#gU)" transform="matrix(1 0.14629 0 1.01064 201 93.435)"/>
<rect x="0" y="-16" width="3" height="32" fill="url(#gU)" transform="matrix(1 0.13958 0 1.00969 204 93.874)"/>
<rect x="0" y="-16" width="3" height="32" fill="url(#gU)" transform="matrix(1 0.13240 0 1.00873 207 94.292)"/>
<rect x="0" y="-16" width="3" height="32" fill="url(#gU)" transform="matrix(1 0.12477 0 1.00775 210 94.689)"/>
<rect x="0" y="-16" width="3" height="32" fill="url(#gU)" transform="matrix(1 0.11672 0 1.00679 213 95.064)"/>
<rect x="0" y="-16" width="3" height="32" fill="url(#gU)" transform="matrix(1 0.10828 0 1.00584 216 95.414)"/>
<rect x="0" y="-16" width="3" height="32" fill="url(#gU)" transform="matrix(1 0.09946 0 1.00493 219 95.739)"/>
<rect x="0" y="-16" width="3" height="32" fill="url(#gU)" transform="matrix(1 0.09031 0 1.00407 222 96.037)"/>
<rect x="0" y="-16" width="3" height="32" fill="url(#gU)" transform="matrix(1 0.08086 0 1.00326 225 96.308)"/>
<rect x="0" y="-16" width="3" height="32" fill="url(#gU)" transform="matrix(1 0.07113 0 1.00253 228 96.551)"/>
<rect x="0" y="-16" width="3" height="32" fill="url(#gU)" transform="matrix(1 0.06116 0 1.00187 231 96.764)"/>
<rect x="0" y="-16" width="3" height="32" fill="url(#gU)" transform="matrix(1 0.05098 0 1.00130 234 96.948)"/>
<rect x="0" y="-16" width="3" height="32" fill="url(#gU)" transform="matrix(1 0.04063 0 1.00083 237 97.100)"/>
<rect x="0" y="-16" width="3" height="32" fill="url(#gU)" transform="matrix(1 0.03015 0 1.00045 240 97.222)"/>
<rect x="0" y="-16" width="3" height="32" fill="url(#gU)" transform="matrix(1 0.01956 0 1.00019 243 97.313)"/>
<rect x="0" y="-16" width="3" height="32" fill="url(#gU)" transform="matrix(1 0.00890 0 1.00004 246 97.372)"/>
<rect x="0" y="-16" width="3" height="32" fill="url(#gU)" transform="matrix(1 0.00059 0 1.00000 249 97.398)"/>
<rect x="0" y="-16" width="114" height="32" fill="url(#gU)" transform="matrix(1 0.00000 0 1.00000 252 97.400)"/>
</g>
<g mask="url(#mB)" style="mix-blend-mode:screen"><rect x="81.1" y="93.55" width="446.9" height="48.000000000000014" fill="url(#gP)"/></g>
</g>
<rect x="61.5" y="107.7" width="471.0" height="19.7" fill="#fff" fill-opacity="0.2"/>
<use href="#pu" stroke="#fff" stroke-opacity="0.2" stroke-width="7.7"/>
</g>
<rect x="61.5" y="32.5" width="471.0" height="172.0" fill="none" stroke="#000" stroke-width="1.11"/>
<path d="M121.5 204.5v4.86" stroke="#000" stroke-width="1.11"/>
<text x="121.5" y="225.8" text-anchor="middle">−10</text>
<path d="M209.5 204.5v4.86" stroke="#000" stroke-width="1.11"/>
<text x="209.5" y="225.8" text-anchor="middle">−5</text>
<path d="M297.5 204.5v4.86" stroke="#000" stroke-width="1.11"/>
<text x="297.5" y="225.8" text-anchor="middle">0</text>
<path d="M384.5 204.5v4.86" stroke="#000" stroke-width="1.11"/>
<text x="384.5" y="225.8" text-anchor="middle">5</text>
<path d="M472.5 204.5v4.86" stroke="#000" stroke-width="1.11"/>
<text x="472.5" y="225.8" text-anchor="middle">10</text>
<path d="M61.5 40.5h-4.86" stroke="#000" stroke-width="1.11"/>
<text x="51.8" y="46" text-anchor="end">4</text>
<path d="M61.5 79.5h-4.86" stroke="#000" stroke-width="1.11"/>
<text x="51.8" y="85" text-anchor="end">2</text>
<path d="M61.5 118.5h-4.86" stroke="#000" stroke-width="1.11"/>
<text x="51.8" y="124" text-anchor="end">0</text>
<path d="M61.5 157.5h-4.86" stroke="#000" stroke-width="1.11"/>
<text x="51.8" y="163" text-anchor="end">−2</text>
<path d="M61.5 196.5h-4.86" stroke="#000" stroke-width="1.11"/>
<text x="51.8" y="202" text-anchor="end">−4</text>
<text x="297" y="23.8" text-anchor="middle" font-size="16.67">cross section at z=0.00</text>
<text x="297" y="244.6" text-anchor="middle">x</text>
<text transform="translate(21.6 119.6) rotate(-90)" text-anchor="middle">y</text>
<path d="M575.5 39.4L579.88 32.5L584.25 39.4V41.4H575.5z" fill="#fcfdbf"/>
<path d="M575.5 197.6L579.88 204.5L584.25 197.6V195.6H575.5z" fill="#000004"/>
<rect x="575.5" y="39.4" width="8.75" height="158.2" fill="url(#gC)"/>
<path d="M575.5 39.4L579.88 32.5L584.25 39.4V197.6L579.88 204.5L575.5 197.6z" fill="none" stroke="#000" stroke-width="1.11" stroke-linejoin="miter"/>
<path d="M584.8 196.5h4.86" stroke="#000" stroke-width="1.11"/>
<text x="594.65" y="201.8">0</text>
<path d="M584.8 158.5h4.86" stroke="#000" stroke-width="1.11"/>
<text x="594.65" y="163.8">200</text>
<path d="M584.8 120.5h4.86" stroke="#000" stroke-width="1.11"/>
<text x="594.65" y="125.8">400</text>
<path d="M584.8 81.5h4.86" stroke="#000" stroke-width="1.11"/>
<text x="594.65" y="86.8">600</text>
<path d="M584.8 43.5h4.86" stroke="#000" stroke-width="1.11"/>
<text x="594.65" y="48.8">800</text>
<text transform="translate(637.6 120.2) rotate(-90)" text-anchor="middle">|E|²</text>
<clipPath id="c1"><rect x="61.5" y="261.5" width="192.0" height="173.0"/></clipPath>
<polyline points="61.50,283.10 63.42,282.08 65.34,281.09 67.26,280.13 69.18,279.19 71.10,278.29 73.02,277.41 74.94,276.56 76.86,275.74 78.78,274.94 80.70,274.17 82.62,273.43 84.54,272.72 86.46,272.04 88.38,271.38 90.30,270.76 92.22,270.16 94.14,269.59 96.06,269.04 97.98,268.53 99.90,268.04 101.82,267.58 103.74,267.15 105.66,266.74 107.58,266.37 109.50,266.02 111.42,265.70 113.34,265.40 115.26,265.14 117.18,264.90 119.10,264.69 121.02,264.51 122.94,264.36 124.86,264.23 126.78,264.13 128.70,264.06 130.62,264.02 132.54,264.01 134.46,264.02 136.38,264.07 138.30,264.14 140.22,264.24 142.14,264.37 144.06,264.52 145.98,264.71 147.90,264.92 149.82,265.17 151.74,265.44 153.66,265.74 155.58,266.07 157.50,266.42 159.42,266.81 161.34,267.22 163.26,267.67 165.18,268.14 167.10,268.64 169.02,269.17 170.94,269.72 172.86,270.31 174.78,270.92 176.70,271.57 178.62,272.24 180.54,272.94 182.46,273.67 184.38,274.43 186.30,275.21 188.22,276.03 190.14,276.87 192.06,277.74 193.98,278.64 195.90,279.57 197.82,280.53 199.74,281.51 201.66,282.53 203.58,283.57 205.50,284.64 207.42,285.74 209.34,286.87 211.26,288.03 213.18,289.22 215.10,290.43 217.02,291.67 218.94,292.95 220.86,294.25 222.78,295.57 224.70,296.93 226.62,298.32 228.54,299.73 230.46,301.18 232.38,302.65 234.30,304.15 236.22,305.68 238.14,307.24 240.06,308.82 241.98,310.44 243.90,312.08 245.82,313.75 247.74,315.45 249.66,317.18 251.58,318.94 253.50,320.72" fill="none" stroke="#1f77b4" stroke-width="2.08" stroke-linecap="square" clip-path="url(#c1)"/>
<rect x="61.5" y="261.5" width="192.0" height="173.0" fill="none" stroke="#000" stroke-width="1.11"/>
<path d="M61.5 434.5v4.86" stroke="#000" stroke-width="1.11"/>
<text x="61.5" y="454.8" text-anchor="middle">1.50</text>
<path d="M157.5 434.5v4.86" stroke="#000" stroke-width="1.11"/>
<text x="157.5" y="454.8" text-anchor="middle">1.55</text>
<path d="M253.5 434.5v4.86" stroke="#000" stroke-width="1.11"/>
<text x="253.5" y="454.8" text-anchor="middle">1.60</text>
<path d="M61.5 434.5h-4.86" stroke="#000" stroke-width="1.11"/>
<text x="51.8" y="440" text-anchor="end">0.0</text>
<path d="M61.5 399.5h-4.86" stroke="#000" stroke-width="1.11"/>
<text x="51.8" y="405" text-anchor="end">0.2</text>
<path d="M61.5 365.5h-4.86" stroke="#000" stroke-width="1.11"/>
<text x="51.8" y="371" text-anchor="end">0.4</text>
<path d="M61.5 330.5h-4.86" stroke="#000" stroke-width="1.11"/>
<text x="51.8" y="336" text-anchor="end">0.6</text>
<path d="M61.5 296.5h-4.86" stroke="#000" stroke-width="1.11"/>
<text x="51.8" y="302" text-anchor="end">0.8</text>
<path d="M61.5 261.5h-4.86" stroke="#000" stroke-width="1.11"/>
<text x="51.8" y="267" text-anchor="end">1.0</text>
<text x="157.5" y="476.4" text-anchor="middle">Wavelength (<tspan font-style="italic">μ</tspan>m)</text>
<text transform="translate(19.6 348.8) rotate(-90)" text-anchor="middle">Transmission to bus waveguide</text>
<clipPath id="c2"><rect x="341.5" y="261.5" width="191.0" height="173.0"/></clipPath>
<path d="M341.5 426.24L532.5 426.24" stroke="#1f77b4" stroke-width="2.08" stroke-linecap="square" clip-path="url(#c2)"/>
<path d="M341.5 269.3L532.5 269.69" stroke="#ff7f0e" stroke-width="2.08" stroke-linecap="square" clip-path="url(#c2)"/>
<path d="M341.5 426.32L532.5 426.32" stroke="#2ca02c" stroke-width="2.08" stroke-linecap="square" clip-path="url(#c2)"/>
<path d="M341.5 426.16L532.5 426.09" stroke="#d62728" stroke-width="2.08" stroke-linecap="square" clip-path="url(#c2)"/>
<rect x="341.5" y="261.5" width="191.0" height="173.0" fill="none" stroke="#000" stroke-width="1.11"/>
<path d="M341.5 434.5v4.86" stroke="#000" stroke-width="1.11"/>
<text x="341.5" y="454.8" text-anchor="middle">1.50</text>
<path d="M436.5 434.5v4.86" stroke="#000" stroke-width="1.11"/>
<text x="436.5" y="454.8" text-anchor="middle">1.55</text>
<path d="M532.5 434.5v4.86" stroke="#000" stroke-width="1.11"/>
<text x="532.5" y="454.8" text-anchor="middle">1.60</text>
<path d="M341.5 426.5h-4.86" stroke="#000" stroke-width="1.11"/>
<text x="331" y="432" text-anchor="end">0.0</text>
<path d="M341.5 394.5h-4.86" stroke="#000" stroke-width="1.11"/>
<text x="331" y="400" text-anchor="end">0.2</text>
<path d="M341.5 363.5h-4.86" stroke="#000" stroke-width="1.11"/>
<text x="331" y="369" text-anchor="end">0.4</text>
<path d="M341.5 332.5h-4.86" stroke="#000" stroke-width="1.11"/>
<text x="331" y="338" text-anchor="end">0.6</text>
<path d="M341.5 300.5h-4.86" stroke="#000" stroke-width="1.11"/>
<text x="331" y="306" text-anchor="end">0.8</text>
<path d="M341.5 269.5h-4.86" stroke="#000" stroke-width="1.11"/>
<text x="331" y="275" text-anchor="end">1.0</text>
<text x="437.0" y="476.4" text-anchor="middle">Wavelength (<tspan font-style="italic">μ</tspan>m)</text>
<text transform="translate(298.3 348.75) rotate(-90)" text-anchor="middle">Mode fraction</text>
<rect x="446.5" y="304.5" width="79.0" height="87.0" rx="2.8" fill="#fff" fill-opacity="0.8" stroke="#ccc" stroke-width="1.11"/>
<path d="M451.15 315.1H478.9" stroke="#1f77b4" stroke-width="2.08" stroke-linecap="square"/>
<text x="489.9" y="320.6">TM0</text>
<path d="M451.15 335.97H478.9" stroke="#ff7f0e" stroke-width="2.08" stroke-linecap="square"/>
<text x="489.9" y="341.47">TM1</text>
<path d="M451.15 356.84H478.9" stroke="#2ca02c" stroke-width="2.08" stroke-linecap="square"/>
<text x="489.9" y="362.34">TM2</text>
<path d="M451.15 377.71H478.9" stroke="#d62728" stroke-width="2.08" stroke-linecap="square"/>
<text x="489.9" y="383.21">TM3</text>
</svg>
</body></html>
